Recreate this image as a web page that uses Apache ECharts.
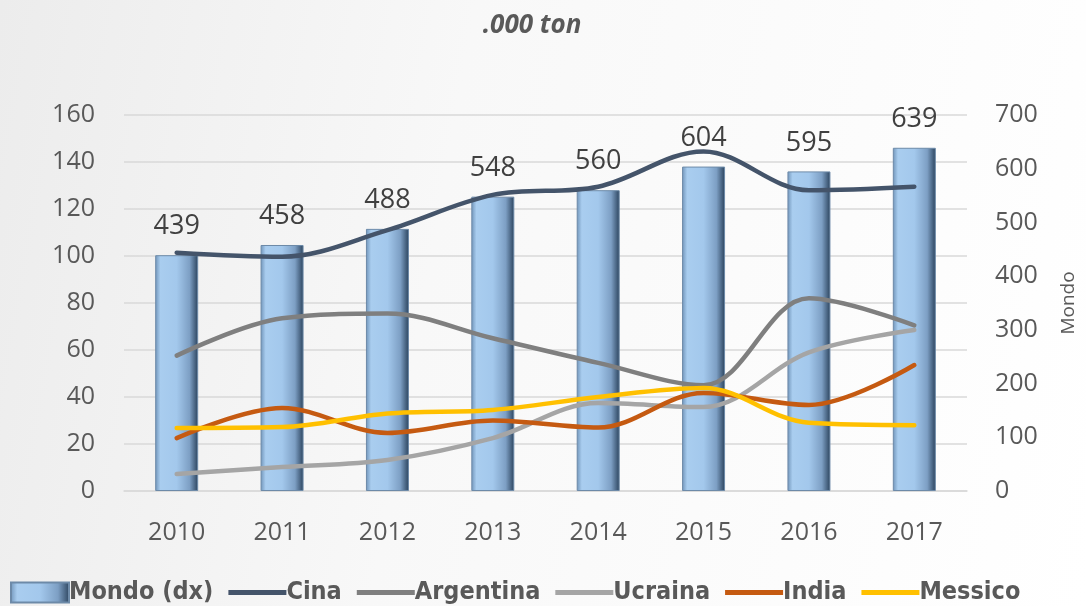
<!DOCTYPE html>
<html>
<head>
<meta charset="utf-8">
<script src="https://cdn.jsdelivr.net/npm/echarts@6/dist/echarts.min.js"></script>
<style>
  html, body { margin: 0; padding: 0; }
  #chart {
    width: 1086px; height: 606px;
    background: linear-gradient(100deg, #ececec 0%, #f8f8f8 40%, #ffffff 100%);
  }
</style>
</head>
<body>
<div id="chart"></div>
<script>
const years = ["2010", "2011", "2012", "2013", "2014", "2015", "2016", "2017"];
const mondo = [439, 458, 488, 548, 560, 604, 595, 639];
const cina = [101.4, 99.7, 111, 126, 129.5, 144.5, 128, 129.5];
const argentina = [57.6, 73.5, 75.5, 65, 54.5, 45, 82, 70.5];
const ucraina = [7.2, 10.2, 13.2, 22.5, 37.4, 35.7, 59, 68.5];
const india = [22.5, 35.3, 24.7, 30, 27, 41.7, 36.6, 53.6];
const messico = [26.8, 27.2, 33, 34.5, 40, 43.8, 29, 28];
const leftTicks = { min: 0, max: 160, interval: 20 };
const rightTicks = { min: 0, max: 700, interval: 100 };

const font = "'Open Sans', 'Noto Sans', sans-serif";
const axisColor = "#595959";
// thin horizontal bar used as legend icon for the line series
const lineIcon = "path://M0,0 L56,0 L56,5 L0,5 Z";

const chart = echarts.init(document.getElementById("chart"));

const barGradient = new echarts.graphic.LinearGradient(0, 0, 1, 0, [
  { offset: 0, color: "#6f93b8" },
  { offset: 0.12, color: "#a9cdef" },
  { offset: 0.5, color: "#a3c8ec" },
  { offset: 0.8, color: "#7d9fc4" },
  { offset: 1, color: "#2a425c" }
]);

const lineSeries = (name, data, color) => ({
  name,
  type: "line",
  yAxisIndex: 0,
  data,
  smooth: 0.35,
  symbol: "none",
  lineStyle: { color, width: 4.5, cap: "round" },
  itemStyle: { color },
  z: 3
});

chart.setOption({
  animation: false,
  title: {
    text: ".000 ton",
    left: 527,
    top: 8,
    textAlign: "center",
    textStyle: { fontFamily: font, fontSize: 26, fontWeight: "bold", fontStyle: "italic", color: axisColor }
  },
  grid: { left: 124, right: 113, top: 115, bottom: 115 },
  legend: {
    left: 5,
    bottom: -4,
    itemGap: 15,
    itemWidth: 58,
    itemHeight: 20,
    textStyle: { fontFamily: "'DejaVu Sans Condensed', 'DejaVu Sans', sans-serif", fontSize: 25, fontWeight: "bold", color: axisColor, padding: [0, 0, 0, -5] },
    data: [
      { name: "Mondo (dx)", icon: "rect" },
      { name: "Cina", icon: lineIcon },
      { name: "Argentina", icon: lineIcon },
      { name: "Ucraina", icon: lineIcon },
      { name: "India", icon: lineIcon },
      { name: "Messico", icon: lineIcon }
    ]
  },
  xAxis: {
    type: "category",
    data: years,
    axisLine: { show: true, lineStyle: { color: "#d9d9d9", width: 1.5 } },
    axisTick: { show: false },
    axisLabel: { fontFamily: font, fontSize: 25, color: axisColor, margin: 29 }
  },
  yAxis: [
    {
      type: "value",
      ...leftTicks,
      axisLine: { show: false },
      axisTick: { show: false },
      axisLabel: { fontFamily: font, fontSize: 25, color: axisColor, margin: 29 },
      splitLine: { lineStyle: { color: "#d9d9d9", width: 1.5 } }
    },
    {
      type: "value",
      ...rightTicks,
      name: "Mondo",
      nameLocation: "middle",
      nameRotate: 90,
      nameGap: 92,
      nameTextStyle: { fontFamily: font, fontSize: 19, color: axisColor },
      axisLine: { show: false },
      axisTick: { show: false },
      axisLabel: { fontFamily: font, fontSize: 25, color: axisColor, margin: 28 },
      splitLine: { show: false }
    }
  ],
  series: [
    {
      name: "Mondo (dx)",
      type: "bar",
      yAxisIndex: 1,
      data: mondo,
      barWidth: 43,
      itemStyle: { color: barGradient, borderColor: "#6d8aa8", borderWidth: 1 },
      label: {
        show: true,
        position: "top",
        distance: 15,
        fontFamily: font,
        fontSize: 27,
        color: "#404040"
      },
      z: 2
    },
    lineSeries("Cina", cina, "#44546a"),
    lineSeries("Argentina", argentina, "#7f7f7f"),
    lineSeries("Ucraina", ucraina, "#a5a5a5"),
    lineSeries("India", india, "#c55a11"),
    lineSeries("Messico", messico, "#ffc000")
  ]
});
</script>
</body>
</html>
